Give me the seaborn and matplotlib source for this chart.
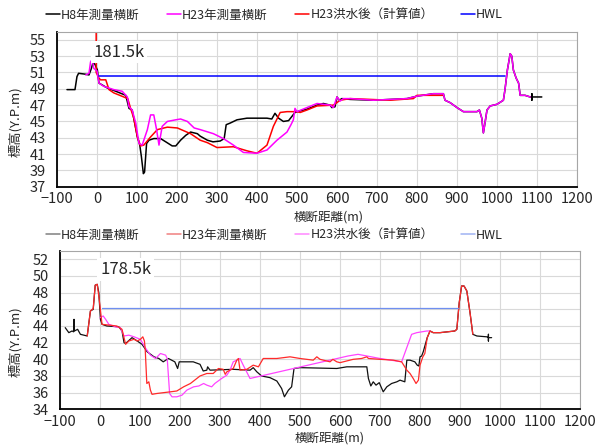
import seaborn as sns
import pandas as pd
import matplotlib.pyplot as plt
from matplotlib.lines import Line2D

# 181.5k cross section (upper chart)
h8_181_x = [-75, -55, -50, -46, -30, -20, -14, -10, -5, 1, 5, 26, 47, 72, 80, 88, 101, 107, 111, 116, 119, 124,
            130, 142, 159, 172, 188, 197, 209, 222, 234, 251, 258, 276, 290, 308, 318, 323, 333, 350, 375, 425, 437,
            445, 454, 466, 479, 495, 508, 525, 550, 566, 583, 587, 595, 600, 606, 612, 633, 691, 733, 775, 800, 841,
            866, 870, 883, 900, 916, 950, 956, 962, 966, 970, 975, 983, 1000, 1016, 1020, 1026, 1033, 1037, 1041,
            1048, 1054, 1058, 1070, 1083, 1087, 1087, 1087, 1087, 1112]
h8_181_y = [48.9, 48.9, 50.5, 50.9, 50.8, 50.7, 51.5, 52.2, 52.0, 51.3, 49.7, 49.1, 48.7, 48.2, 46.6, 46.4, 43.1,
            42.1, 40.7, 38.6, 38.8, 42.3, 42.7, 42.9, 42.9, 42.5, 42.0, 42.0, 42.7, 43.3, 43.7, 43.5, 43.2, 42.7,
            42.5, 42.6, 42.9, 44.6, 44.8, 45.2, 45.4, 45.4, 45.3, 46.0, 45.4, 45.0, 45.1, 46.1, 46.3, 46.5, 47.0,
            47.2, 47.0, 46.7, 46.8, 48.0, 47.6, 47.8, 47.7, 47.6, 47.7, 47.8, 48.1, 48.4, 48.4, 47.6, 47.3, 46.7,
            46.2, 46.2, 46.4, 45.4, 43.6, 44.8, 46.4, 46.9, 47.1, 47.6, 48.9, 51.3, 53.3, 53.0, 51.3, 50.3, 49.7,
            48.2, 48.2, 48.0, 48.0, 47.6, 48.4, 48.0, 48.0]

h23_181_x = [-28, -20, -16, -12, -8, 0, 5, 17, 42, 63, 76, 80, 88, 97, 105, 113, 126, 134, 142, 149, 155, 163,
             176, 197, 209, 226, 243, 258, 291, 316, 341, 366, 400, 425, 450, 475, 485, 491, 495, 500, 525, 550,
             583, 591, 600, 608, 616, 633, 691, 733, 775, 800, 841, 866, 870, 883, 900, 916, 950, 956, 962, 966,
             970, 975, 983, 1000, 1016, 1020, 1026, 1033, 1037, 1041, 1048, 1054, 1058, 1070, 1083]
h23_181_y = [50.7, 50.9, 52.3, 52.6, 51.5, 51.2, 49.7, 49.3, 48.9, 48.7, 48.0, 46.8, 46.4, 44.8, 42.3, 42.1,
             44.0, 45.8, 45.8, 44.0, 42.1, 44.4, 45.0, 45.2, 45.3, 45.0, 44.2, 44.0, 43.5, 42.9, 42.1, 41.2, 41.1,
             41.5, 42.7, 43.7, 44.6, 45.2, 46.6, 46.2, 46.7, 47.2, 47.0, 46.7, 48.0, 47.5, 47.8, 47.8, 47.6, 47.7,
             47.8, 48.1, 48.4, 48.4, 47.6, 47.3, 46.7, 46.2, 46.2, 46.4, 45.4, 43.6, 44.8, 46.4, 46.9, 47.1, 47.6,
             48.9, 51.3, 53.3, 53.0, 51.3, 50.3, 49.7, 48.2, 48.2, 48.0]

calc_181_x = [-2, -2, 5, 9, 22, 30, 42, 67, 77, 84, 92, 101, 109, 117, 134, 151, 176, 201, 234, 258, 276, 300,
              341, 375, 400, 425, 441, 458, 475, 500, 508, 525, 550, 591, 608, 633, 733, 791, 800, 866]
calc_181_y = [57.0, 51.0, 50.3, 50.1, 50.1, 48.9, 48.5, 48.0, 47.8, 46.6, 45.4, 43.1, 42.0, 42.1, 43.1, 44.0,
              44.3, 44.2, 43.5, 42.7, 42.4, 41.8, 41.9, 41.4, 41.1, 42.1, 44.4, 46.1, 46.2, 46.2, 46.1, 46.4,
              46.9, 47.0, 47.6, 47.8, 47.6, 47.8, 48.2, 48.2]

hwl_181_x = [5, 1020]
hwl_181_y = [50.6, 50.6]

# 178.5k cross section (lower chart)
h8_178_x = [-87, -78, -70, -66, -65, -64, -56, -49, -32, -24, -17, -12, -7, -3, 1, 5, 17, 47, 55, 60, 64, 80,
            93, 105, 118, 135, 147, 158, 171, 187, 194, 198, 217, 233, 250, 258, 267, 269, 275, 333, 375, 383,
            392, 404, 425, 442, 454, 461, 471, 479, 485, 500, 592, 617, 667, 671, 677, 683, 690, 698, 708, 717,
            729, 742, 750, 762, 767, 775, 787, 793, 797, 800, 804, 808, 818, 825, 833, 850, 887, 892, 898, 904,
            910, 917, 925, 932, 942, 967, 971, 971, 971, 971, 979]
h8_178_y = [43.8, 43.2, 43.4, 43.3, 44.8, 43.4, 43.6, 43.0, 42.8, 45.8, 46.0, 48.9, 49.0, 48.0, 44.8, 44.2,
            44.0, 43.9, 43.4, 42.0, 41.9, 42.6, 42.2, 41.8, 40.9, 40.3, 40.1, 39.7, 40.1, 39.7, 38.9, 39.7, 39.7,
            39.7, 39.4, 38.6, 38.7, 39.1, 38.7, 38.8, 38.7, 39.0, 38.5, 38.0, 37.8, 37.4, 36.5, 35.5, 36.3, 36.7,
            38.9, 39.0, 38.9, 39.1, 39.1, 37.7, 36.8, 37.3, 36.9, 37.2, 36.1, 36.7, 37.1, 37.3, 37.5, 37.3, 39.9,
            39.9, 39.7, 39.3, 39.2, 40.3, 40.4, 40.9, 42.6, 43.4, 43.2, 43.2, 43.4, 43.6, 46.8, 48.8, 48.8, 48.2,
            45.6, 43.0, 42.8, 42.7, 42.6, 42.2, 43.0, 42.6, 42.6]

h23_178_x = [-32, -24, -17, -12, -7, -2, 5, 42, 55, 64, 72, 85, 93, 101, 107, 111, 113, 117, 122, 126, 130, 142,
             176, 192, 209, 226, 242, 250, 267, 283, 296, 308, 313, 317, 333, 342, 346, 350, 367, 383, 396, 408,
             442, 475, 500, 533, 542, 550, 575, 582, 592, 600, 633, 654, 667, 671, 700, 733, 754, 767, 775, 783,
             790, 796, 800, 807, 812, 818, 825, 833, 850, 887, 892, 898, 904, 910, 917, 925, 932]
h23_178_y = [42.8, 45.8, 46.1, 48.9, 49.0, 47.2, 44.2, 44.0, 43.6, 41.8, 42.2, 42.4, 42.2, 42.4, 42.7, 42.2,
             41.2, 37.1, 37.3, 36.3, 35.8, 35.9, 36.1, 36.2, 36.7, 37.1, 37.7, 38.0, 38.3, 38.3, 38.9, 38.8, 38.2,
             38.5, 38.9, 39.9, 40.1, 38.7, 38.8, 39.3, 39.1, 40.1, 40.1, 40.3, 40.1, 39.9, 40.3, 40.0, 39.7, 40.0,
             39.7, 39.6, 40.0, 40.1, 40.3, 40.1, 40.0, 39.9, 39.7, 38.7, 38.3, 37.7, 37.1, 37.5, 39.3, 40.3, 40.7,
             42.6, 43.4, 43.2, 43.2, 43.4, 43.6, 46.8, 48.8, 48.8, 48.2, 45.6, 43.0]

calc_178_x = [0, 8, 14, 22, 39, 51, 60, 72, 85, 101, 113, 126, 139, 151, 164, 168, 174, 180, 192, 205, 217, 234,
              247, 259, 267, 279, 287, 304, 317, 325, 333, 342, 350, 358, 375, 620, 645, 667, 700, 754, 779, 792,
              817, 825]
calc_178_y = [45.0, 45.2, 44.8, 44.2, 43.9, 43.8, 42.8, 42.9, 42.7, 42.4, 41.4, 40.5, 40.1, 40.7, 40.5, 40.1,
              35.9, 35.5, 35.5, 35.7, 36.3, 36.7, 36.8, 37.1, 36.9, 36.7, 37.1, 37.7, 38.1, 38.7, 39.7, 39.9, 40.1,
              39.3, 37.7, 40.4, 40.6, 40.4, 40.1, 39.7, 43.0, 43.2, 43.4, 43.4]

hwl_178_x = [5, 895]
hwl_178_y = [46.1, 46.1]

legend_labels = ['H8年測量横断', 'H23年測量横断', 'H23洪水後（計算値）', 'HWL']

sns.set_style('white')
plt.rcParams['font.family'] = ['Noto Sans CJK JP', 'DejaVu Sans']

fig = plt.figure(figsize=(5.96, 4.47), dpi=100)
ax1 = fig.add_axes([0.0956, 0.5823, 0.8725, 0.3468])
ax2 = fig.add_axes([0.1007, 0.0843, 0.8725, 0.3542])


def draw(ax, xs, ys, color, lw):
    df = pd.DataFrame({'x': xs, 'y': ys})
    sns.lineplot(data=df, x='x', y='y', ax=ax, color=color, lw=lw, sort=False, estimator=None, legend=False)


draw(ax1, h8_181_x, h8_181_y, '#000000', 1.1)
draw(ax1, calc_181_x, calc_181_y, '#ff0000', 1.1)
draw(ax1, h23_181_x, h23_181_y, '#ff00ff', 1.1)
draw(ax1, hwl_181_x, hwl_181_y, '#0000ff', 1.1)

draw(ax2, h8_178_x, h8_178_y, '#111111', 0.9)
draw(ax2, calc_178_x, calc_178_y, '#ff44ff', 0.9)
draw(ax2, h23_178_x, h23_178_y, '#ff2a2a', 0.9)
draw(ax2, hwl_178_x, hwl_178_y, '#6f8ff0', 0.9)

for ax, ylim, yticks in [(ax1, (37, 56), range(37, 56, 2)), (ax2, (34, 53), range(34, 53, 2))]:
    ax.set_xlim(-100, 1200)
    ax.set_ylim(*ylim)
    ax.set_xticks(range(-100, 1201, 100))
    ax.set_yticks(list(yticks))
    ax.grid(True, color='#d9d9d9', lw=0.8)
    ax.tick_params(length=0, labelsize=10.5)
    ax.tick_params(axis='y', pad=8)
    ax.tick_params(axis='x', pad=4)
    for s in ['top', 'right']:
        ax.spines[s].set_color('#a6a6a6')
        ax.spines[s].set_linewidth(0.8)
    for s in ['left', 'bottom']:
        ax.spines[s].set_color('#000000')
        ax.spines[s].set_linewidth(1.3)
    ax.set_xlabel('横断距離(m)', fontsize=9)
    ax.set_ylabel('標高(Y.P.m)', fontsize=9.5)

ax1.xaxis.set_label_coords(0.523, -0.155)
ax2.xaxis.set_label_coords(0.519, -0.14)
ax1.yaxis.set_label_coords(-0.067, 0.42)
ax2.yaxis.set_label_coords(-0.072, 0.43)

ax1.text(-9, 53.5, '181.5k', fontsize=12, ha='left', va='center',
         bbox=dict(fc='white', ec='none', pad=2))
ax2.text(0, 50.8, '178.5k', fontsize=12, ha='left', va='center',
         bbox=dict(fc='white', ec='none', pad=2))

top_handles = [Line2D([], [], color=c, lw=1.1) for c in ['#000000', '#ff00ff', '#ff0000', '#0000ff']]
bot_handles = [Line2D([], [], color=c, lw=1.1) for c in ['#808080', '#f08080', '#ff88ff', '#9fb3f3']]

for handles, ypos in [(top_handles, 1 - 15 / 447), (bot_handles, 1 - 235 / 447)]:
    fig.legend(handles, legend_labels, loc='center left', bbox_to_anchor=(46 / 596, ypos), ncol=4,
               frameon=False, fontsize=9, handlelength=1.1, handletextpad=0.1, columnspacing=2.2,
               borderpad=0, borderaxespad=0)

fig.savefig('out.png', dpi=100)
